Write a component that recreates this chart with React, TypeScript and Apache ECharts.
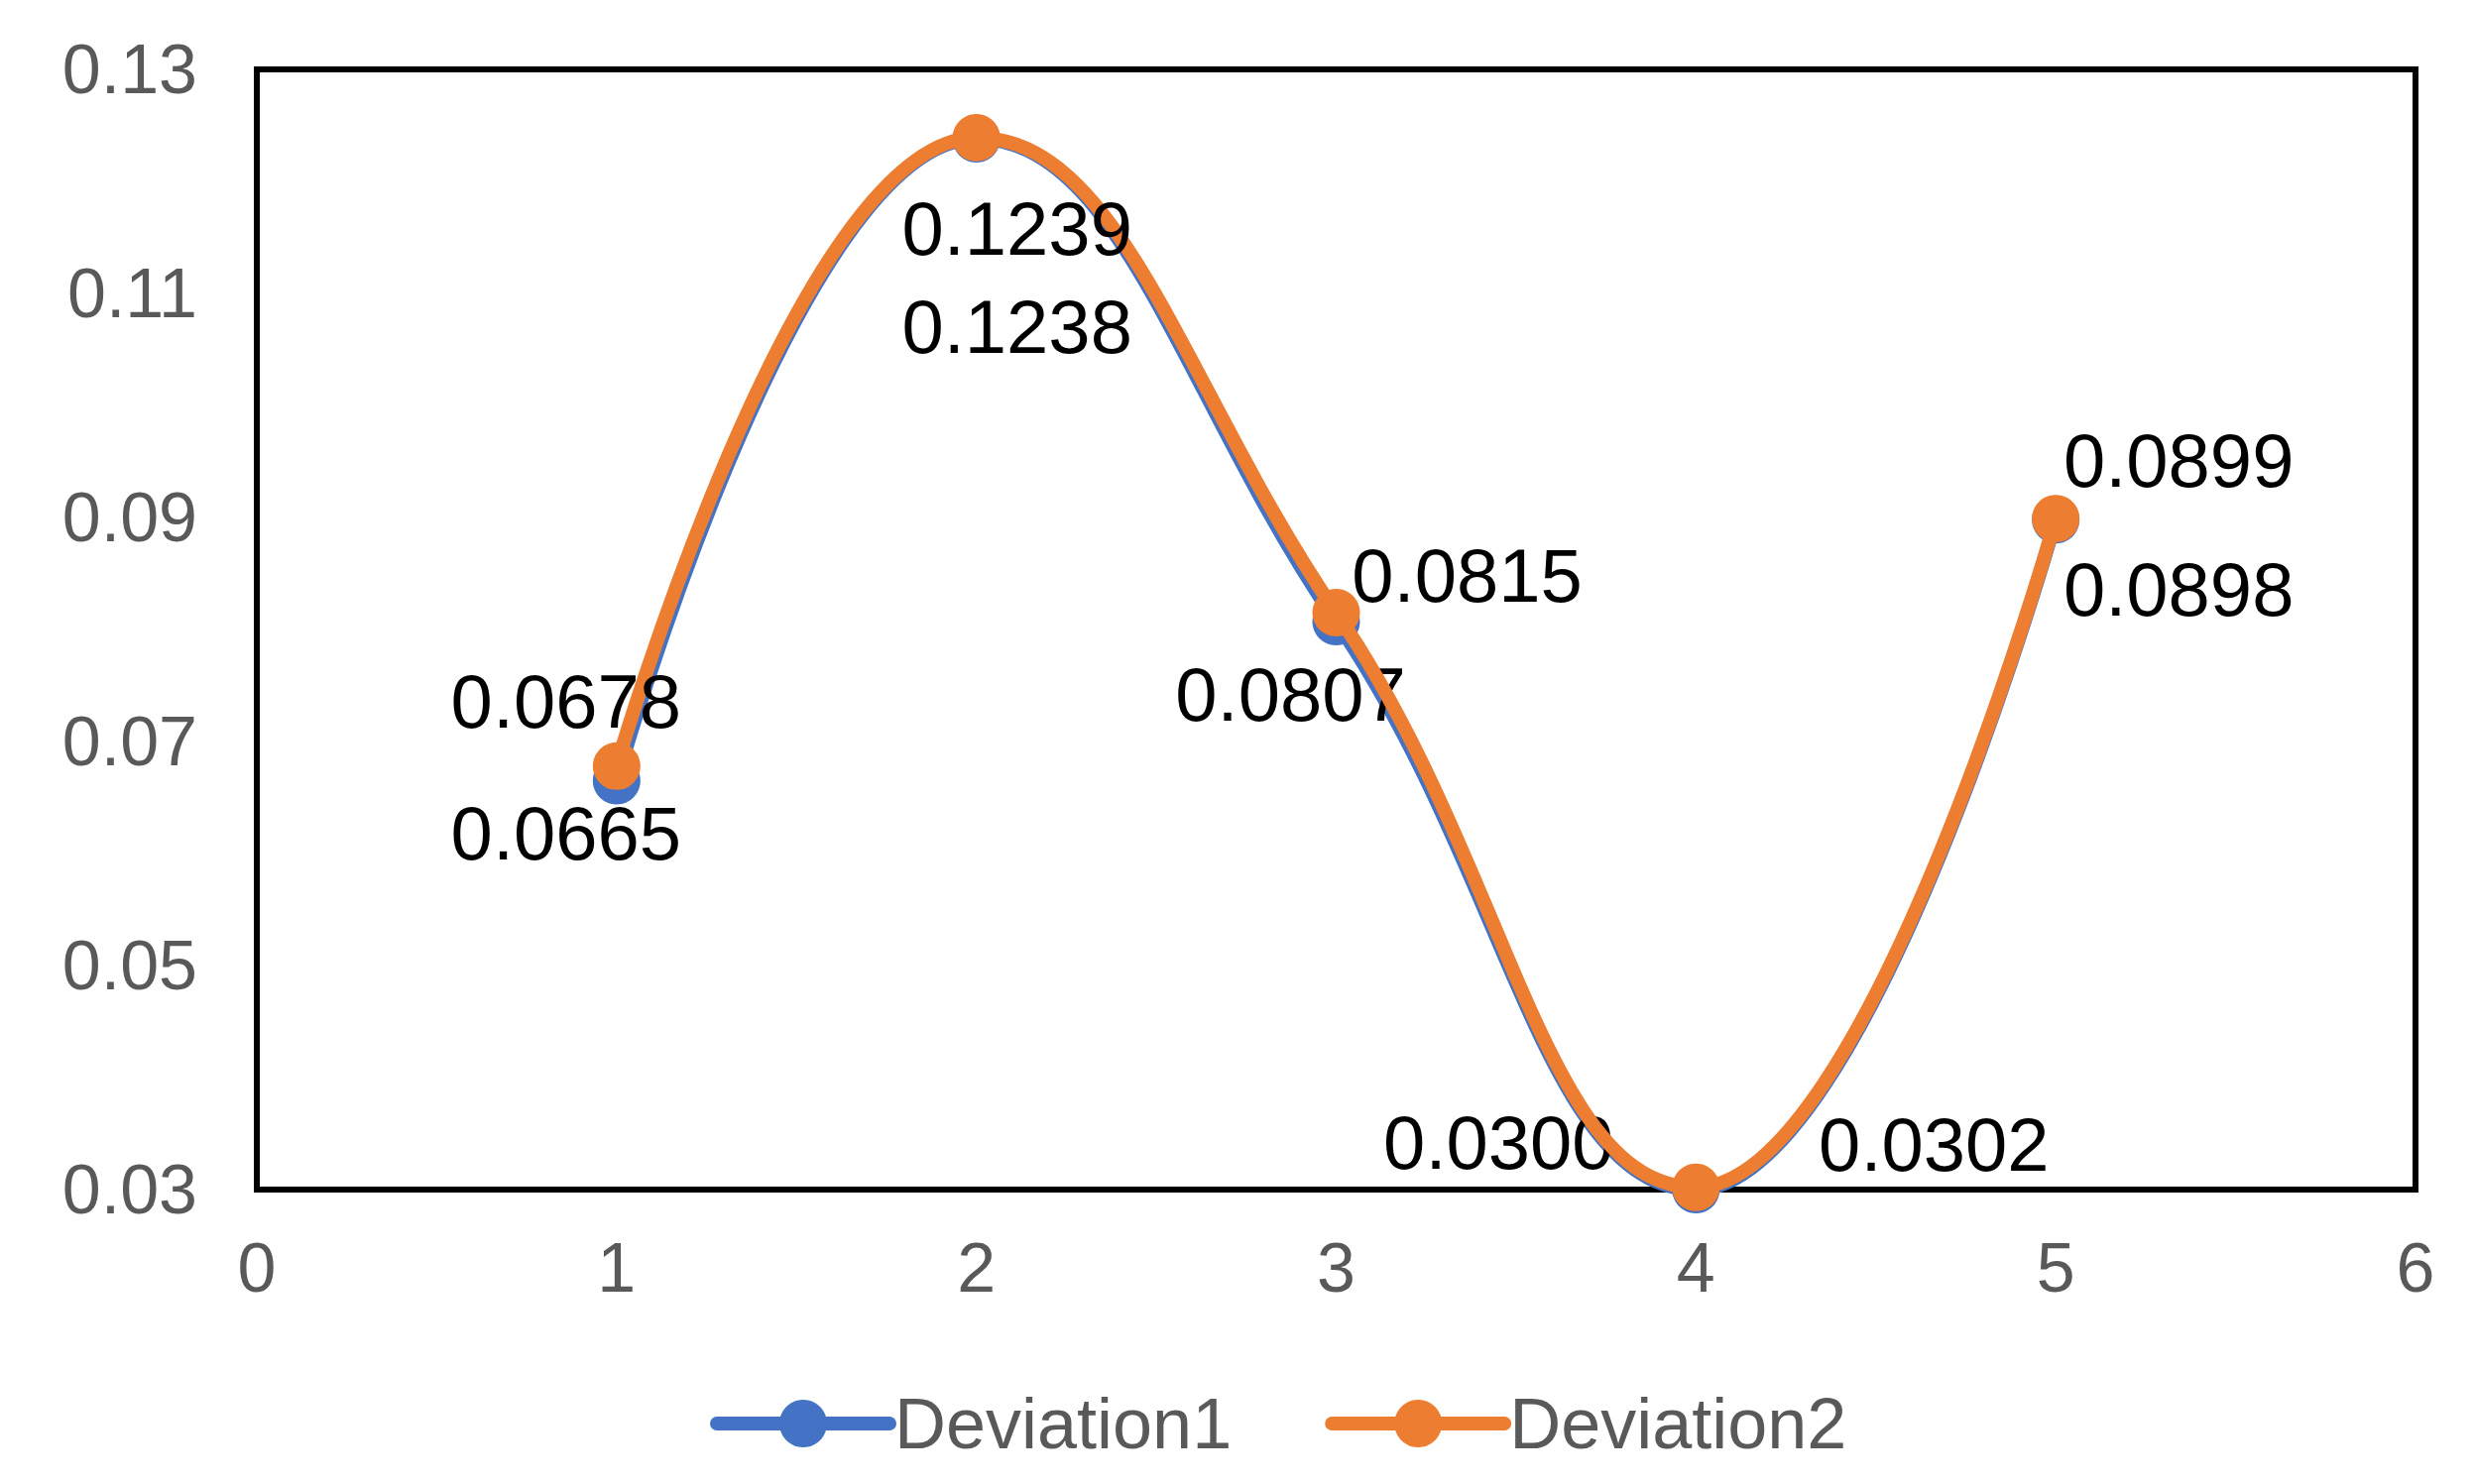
import React, { useEffect, useRef } from "react";
import * as echarts from "echarts";

const xValues = [1, 2, 3, 4, 5];
const deviation1 = [0.0665, 0.1238, 0.0807, 0.03, 0.0898];
const deviation2 = [0.0678, 0.1239, 0.0815, 0.0302, 0.0899];
const seriesNames = ["Deviation1", "Deviation2"];
const yTickLabels = ["0.03", "0.05", "0.07", "0.09", "0.11", "0.13"];
const xTickLabels = ["0", "1", "2", "3", "4", "5", "6"];

// label offsets (px) relative to each point
const offsets1: [number, number][] = [[-51, 53], [41, 189], [-46, 73], [-199, -48], [124, 70]];
const offsets2: [number, number][] = [[-51, -65], [41, 92], [132, -38], [240, -43], [124, -59]];

const FONT = "'Liberation Sans', Arial, sans-serif";

export default function App() {
  const ref = useRef<HTMLDivElement>(null);
  useEffect(() => {
    if (!ref.current) return;
    const chart = echarts.init(ref.current, null, { renderer: "svg" });
    const mk = (vals: number[], offs: [number, number][]) =>
      xValues.map((x, i) => ({
        value: [x, vals[i]],
        label: { offset: offs[i] },
      }));
    const labelStyle = {
      show: true,
      position: "inside",
      fontSize: 76,
      color: "#000",
      fontFamily: FONT,
      formatter: (p: any) => Number(p.value[1]).toFixed(4),
    };
    chart.setOption({
      animation: false,
      backgroundColor: "#fff",
      textStyle: { fontFamily: FONT },
      grid: {
        left: 259,
        right: 60,
        top: 70,
        bottom: 297,
        show: true,
        borderColor: "#000",
        borderWidth: 6,
        backgroundColor: "transparent",
      },
      legend: {
        data: seriesNames,
        left: 711,
        top: 1395,
        itemWidth: 174,
        itemHeight: 60,
        itemGap: 94,
        lineStyle: { width: 14 },
        textStyle: { fontSize: 72, color: "#595959", fontFamily: FONT },
      },
      xAxis: {
        type: "value",
        min: 0,
        max: 6,
        interval: 1,
        axisLine: { show: false },
        axisTick: { show: false },
        splitLine: { show: false },
        axisLabel: {
          fontSize: 70,
          color: "#595959",
          margin: 44,
          fontFamily: FONT,
          formatter: (v: number) => {
            const s = String(Math.round(v));
            return xTickLabels.includes(s) ? s : "";
          },
        },
      },
      yAxis: {
        type: "value",
        min: 0.03,
        max: 0.13,
        interval: 0.01,
        axisLine: { show: false },
        axisTick: { show: false },
        splitLine: { show: false },
        axisLabel: {
          fontSize: 70,
          color: "#595959",
          margin: 60,
          fontFamily: FONT,
          formatter: (v: number) => {
            const s = v.toFixed(2);
            return yTickLabels.includes(s) ? s : "";
          },
        },
      },
      series: [
        {
          name: seriesNames[0],
          type: "line",
          smooth: 0.45,
          clip: false,
          symbol: "circle",
          symbolSize: 48,
          lineStyle: { width: 14, color: "#4472C4", cap: "round" },
          itemStyle: { color: "#4472C4" },
          label: labelStyle,
          data: mk(deviation1, offsets1),
          z: 2,
        },
        {
          name: seriesNames[1],
          type: "line",
          smooth: 0.45,
          clip: false,
          symbol: "circle",
          symbolSize: 48,
          lineStyle: { width: 14, color: "#ED7D31", cap: "round" },
          itemStyle: { color: "#ED7D31" },
          label: labelStyle,
          data: mk(deviation2, offsets2),
          z: 3,
        },
      ],
    });
    return () => chart.dispose();
  }, []);
  return (
    <div
      ref={ref}
      style={{ position: "fixed", left: 0, top: 0, width: 2496, height: 1497 }}
    />
  );
}
